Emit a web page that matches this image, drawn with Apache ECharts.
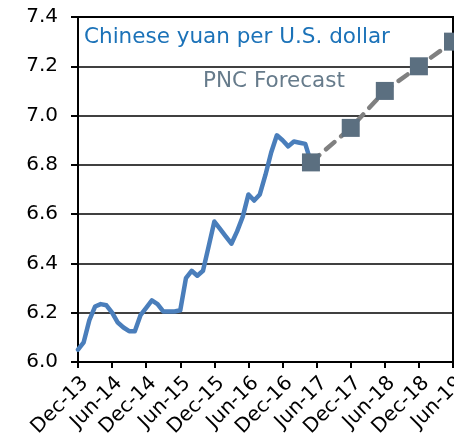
<!DOCTYPE html>
<html>
<head>
<meta charset="utf-8">
<script src="https://cdn.jsdelivr.net/npm/echarts@6/dist/echarts.min.js"></script>
<style>
  html, body { margin: 0; padding: 0; background: #fff; }
  #chart { width: 454px; height: 448px; }
</style>
</head>
<body>
<div id="chart"></div>
<script>
// monthly categories Dec-13 .. Jun-19
var monthNames = ['Jan', 'Feb', 'Mar', 'Apr', 'May', 'Jun', 'Jul', 'Aug', 'Sep', 'Oct', 'Nov', 'Dec'];
var months = [];
for (var y = 13, m = 11; y < 19 || m <= 5; ) {
  months.push(monthNames[m] + '-' + y);
  m++;
  if (m > 11) { m = 0; y++; }
}

// CNY per USD, monthly, Dec-13 .. May-17
var actual = [
  6.05, 6.08, 6.17, 6.225, 6.235, 6.23, 6.20, 6.16, 6.14, 6.125, 6.125, 6.19,
  6.22, 6.25, 6.235, 6.205, 6.205, 6.205, 6.21, 6.34, 6.37, 6.35, 6.37, 6.47,
  6.57, 6.54, 6.51, 6.48, 6.53, 6.59, 6.68, 6.655, 6.68, 6.76, 6.85, 6.92,
  6.90, 6.875, 6.895, 6.89, 6.885, 6.81
];

// PNC forecast points
var forecastMonths = ['May-17', 'Dec-17', 'Jun-18', 'Dec-18', 'Jun-19'];
var forecastValues = [6.81, 6.95, 7.10, 7.20, 7.30];

var yTicks = { min: 6.0, max: 7.4, step: 0.2 };

var chart = echarts.init(document.getElementById('chart'), null, { renderer: 'canvas' });

var font = 'DejaVu Sans';

var option = {
  backgroundColor: '#ffffff',
  animation: false,
  grid: {
    left: 78,
    right: 1,
    top: 17,
    bottom: 86,
    outerBoundsMode: 'none',
    containLabel: false,
    show: true,
    borderColor: '#000',
    borderWidth: 2
  },
  xAxis: {
    type: 'category',
    data: months,
    boundaryGap: false,
    axisLine: { lineStyle: { color: '#000', width: 2 } },
    axisTick: {
      interval: 5,
      length: 6,
      lineStyle: { color: '#000', width: 2 }
    },
    axisLabel: {
      interval: 5,
      rotate: 45,
      margin: 11,
      verticalAlign: 'top',
      color: '#000',
      fontFamily: font,
      fontSize: 20
    },
    splitLine: { show: false }
  },
  yAxis: {
    type: 'value',
    min: yTicks.min,
    max: yTicks.max,
    interval: yTicks.step,
    axisLine: { show: true, lineStyle: { color: '#000', width: 2 } },
    axisTick: { show: true, length: 7, lineStyle: { color: '#000', width: 2 } },
    axisLabel: {
      margin: 20,
      color: '#000',
      fontFamily: font,
      fontSize: 20,
      formatter: function (v) { return v.toFixed(1); }
    },
    splitLine: { lineStyle: { color: '#000', width: 1.5 } }
  },
  graphic: [
    {
      type: 'text',
      left: 84,
      top: 26,
      style: {
        text: 'Chinese yuan per U.S. dollar',
        fill: '#1b72b8',
        font: '21.5px "DejaVu Sans"'
      }
    },
    {
      type: 'text',
      left: 203,
      top: 70,
      style: {
        text: 'PNC Forecast',
        fill: '#667b8b',
        font: '21.5px "DejaVu Sans"'
      }
    }
  ],
  series: [
    {
      name: 'Actual',
      type: 'line',
      data: actual,
      showSymbol: false,
      smooth: false,
      lineStyle: { color: '#4a7ebb', width: 4.5, join: 'round', cap: 'round' },
      z: 2
    },
    {
      name: 'PNC Forecast',
      type: 'line',
      data: forecastMonths.map(function (m, i) { return [m, forecastValues[i]]; }),
      symbol: 'rect',
      symbolSize: 18,
      showAllSymbol: true,
      itemStyle: { color: '#5b6f80' },
      lineStyle: { color: '#808080', width: 4.5, type: [11, 9], cap: 'round' },
      clip: false,
      z: 3
    }
  ]
};

chart.setOption(option);
</script>
</body>
</html>
